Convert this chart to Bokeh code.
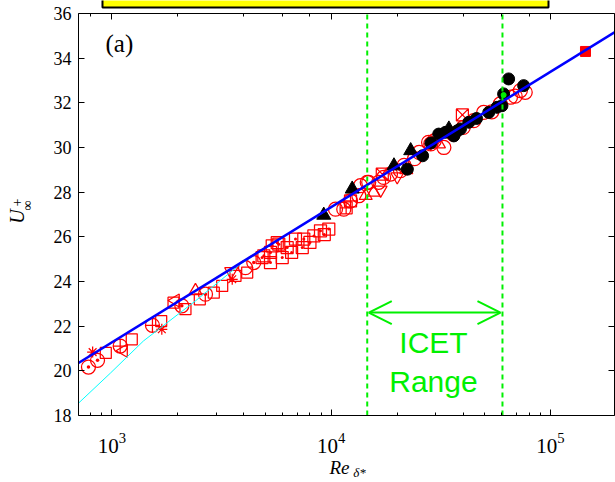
import math
from bokeh.plotting import figure
from bokeh.models import (Range1d, LogAxis, LinearAxis, Label, Arrow, OpenHead,
                          FixedTicker, LogTicker, CustomJSTickFormatter, BoxAnnotation)
from bokeh.embed import file_html
from bokeh.resources import INLINE

# ---------------- data ----------------
yticks = [18, 20, 22, 24, 26, 28, 30, 32, 34, 36]
x_lo, x_hi = 704, 195800          # axis box limits (Re_delta*)
y_lo, y_hi = 18, 36               # axis box limits (U+_inf)

fit_re = [704, 195800]
fit_u = [20.35, 35.16]

cyan_re = [704, 985, 1394, 2404, 3857, 5870, 10000]
cyan_u = [18.55, 19.9, 21.34, 23.13, 24.78, 25.93, 27.3]

cdot_re = [782, 860, 2084, 2672, 4436]
cdot_u = [20.17, 20.47, 22.91, 23.43, 24.85]

ccross_re = [1091, 1531, 28450]
ccross_u = [21.11, 22.04, 30.16]

sq_re = [938, 1232, 1678, 2165, 2517, 2915, 3184, 3661, 4140, 1910]
sq_u = [20.80, 21.41, 22.23, 22.76, 23.2, 23.5, 23.8, 24.25, 24.4, 23.05]

ast_re = [817, 1689, 3538]
ast_u = [20.84, 21.86, 24.1]

tleft_re = [1130, 1950]
tleft_u = [20.9, 23.15]

sqdot_re = [4842, 5287, 5383, 5675, 4930, 5768, 6300, 6874, 7380, 7500,
            8337, 8938, 9753, 5287, 5980, 6600, 8000, 9300]
sqdot_u = [25.07, 25.3, 25.6, 25.74, 25.15, 25.67, 25.52, 25.9, 25.52, 25.9,
           26.04, 26.27, 26.35, 24.85, 25.07, 25.3, 25.75, 26.1]

sqcross_re = [11700, 12250]
sqcross_u = [27.3, 27.61]

sqx_re = [39660, 17100]
sqx_u = [31.46, 28.81]

tri_re = [2405, 14370, 15620, 22000, 31000]
tri_u = [23.58, 27.84, 27.99, 29.0, 30.15]

itri_re = [3500, 16800, 20000]
itri_u = [24.45, 28.1, 28.7]

circ_re = [4066, 10462, 11410, 12250, 13370, 13600, 14600, 14830, 16460,
           17350, 18640, 20700, 25180, 27800, 32650, 44660, 49560, 59030,
           65690, 72910, 76700, 21500, 24000, 29500, 36000, 40000, 54000, 69000]
circ_u = [24.62, 27.24, 27.24, 27.61, 27.84, 28.29, 28.44, 28.44, 28.44,
          28.66, 28.81, 28.96, 29.78, 30.23, 30.0, 31.2, 31.57, 31.95,
          32.25, 32.55, 32.47, 29.2, 29.5, 30.3, 30.6, 30.9, 31.6, 32.3]

bcirc_re = [22250, 26110, 30930, 37640, 33200, 36240, 38850, 42420, 52300,
            57030, 60070, 61130, 64440, 75450, 28500, 46000]
bcirc_u = [29.03, 29.63, 30.6, 30.75, 30.68, 30.52, 30.83, 31.13, 31.57,
           31.8, 31.87, 32.4, 33.07, 32.77, 30.2, 31.3]

btri_re = [9250, 12470, 19330, 23040, 34410]
btri_u = [26.97, 28.14, 29.18, 29.86, 30.83]

green_re = [61130]
green_u = [32.35]

rsq_re = [144400]
rsq_u = [34.3]

icet_lo, icet_hi = 14600, 60400

RED = "#ff0000"
GREEN = "#00f000"
SERIF = "Liberation Serif"

# frame covers the whole canvas; the axis box is drawn by fixed-location axes
p = figure(width=615, height=482, x_axis_type="log",
           x_range=Range1d(310.5, 197900), y_range=Range1d(15.0, 36.582),
           output_backend="svg", toolbar_location=None, min_border=0)
p.grid.visible = False
p.outline_line_color = None
p.background_fill_color = "white"
p.border_fill_color = "white"

def style_axis(ax):
    ax.axis_line_color = "black"
    ax.axis_line_width = 1
    ax.major_tick_in = 6
    ax.major_tick_out = 0
    ax.major_tick_line_color = "black"
    ax.minor_tick_line_color = "black"
    ax.major_label_text_font = SERIF
    ax.major_label_text_color = "black"

blank = CustomJSTickFormatter(code="return ''")

xa = p.xaxis[0]
style_axis(xa)
xa.fixed_location = y_lo
xa.bounds = (x_lo, x_hi)
xa.minor_tick_in = 3
xa.minor_tick_out = 0
xa.major_label_text_font_size = "21px"
xa.major_label_standoff = 18

ya = p.yaxis[0]
style_axis(ya)
ya.fixed_location = x_lo
ya.bounds = (y_lo, y_hi)
ya.ticker = FixedTicker(ticks=yticks)
ya.minor_tick_in = 0
ya.minor_tick_out = 0
ya.major_label_text_font_size = "18px"
ya.major_label_standoff = 7

top = LogAxis(ticker=LogTicker(), formatter=blank, fixed_location=y_hi,
              bounds=(x_lo, x_hi))
style_axis(top)
top.minor_tick_in = 3
top.minor_tick_out = 0
top.major_label_text_font_size = "2px"
top.major_label_standoff = 0
p.add_layout(top, "above")

right = LinearAxis(ticker=FixedTicker(ticks=yticks), formatter=blank,
                   fixed_location=x_hi, bounds=(y_lo, y_hi))
style_axis(right)
right.minor_tick_in = 0
right.minor_tick_out = 0
right.major_label_text_font_size = "2px"
right.major_label_standoff = 0
p.add_layout(right, "right")

lw = 1.25
p.scatter(sq_re, sq_u, marker="square", size=11, line_color=RED, fill_color=None, line_width=lw)
p.scatter(cdot_re, cdot_u, marker="circle_dot", size=14, line_color=RED, fill_color=None, line_width=lw)
p.scatter(ccross_re, ccross_u, marker="circle_cross", size=14, line_color=RED, fill_color=None, line_width=lw)
p.scatter(ast_re, ast_u, marker="asterisk", size=11, line_color=RED, line_width=lw)
p.scatter(tleft_re, tleft_u, marker="triangle", angle=math.pi / 2, size=13, line_color=RED, fill_color=None, line_width=lw)
p.scatter(sqdot_re, sqdot_u, marker="square_dot", size=12, line_color=RED, fill_color=None, line_width=lw)
p.scatter(sqcross_re, sqcross_u, marker="square_cross", size=12, line_color=RED, fill_color=None, line_width=lw)
p.scatter(sqx_re, sqx_u, marker="square_x", size=12, line_color=RED, fill_color=None, line_width=lw)
p.scatter(tri_re, tri_u, marker="triangle", size=13, line_color=RED, fill_color=None, line_width=lw)
p.scatter(itri_re, itri_u, marker="inverted_triangle", size=13, line_color=RED, fill_color=None, line_width=lw)
p.scatter(circ_re, circ_u, marker="circle", size=14, line_color=RED, fill_color=None, line_width=lw)
p.scatter(bcirc_re, bcirc_u, marker="circle", size=12, line_color="black", fill_color="black")
p.scatter(btri_re, btri_u, marker="triangle", size=14, line_color="black", fill_color="black")
p.scatter(green_re, green_u, marker="circle", size=5, line_color=GREEN, fill_color=GREEN)
p.scatter(rsq_re, rsq_u, marker="square", size=10, line_color=RED, fill_color=RED)

p.line(cyan_re, cyan_u, line_color="#00ffff", line_width=1)
p.line(fit_re, fit_u, line_color="#0000ff", line_width=2.6)

for xv in (icet_lo, icet_hi):
    p.line([xv, xv], [y_lo, y_hi], line_color=GREEN, line_width=2, line_dash="5 4")

p.add_layout(Arrow(x_start=14840, x_end=59150, y_start=22.61, y_end=22.61,
                   line_color=GREEN, line_width=2,
                   start=OpenHead(size=23, line_color=GREEN, line_width=2),
                   end=OpenHead(size=23, line_color=GREEN, line_width=2)))

p.add_layout(Label(x=29270, y=21.25, text="ICET", text_font="Liberation Sans",
                   text_font_size="30px", text_color=GREEN, text_align="center",
                   text_baseline="middle"))
p.add_layout(Label(x=29270, y=19.54, text="Range", text_font="Liberation Sans",
                   text_font_size="30px", text_color=GREEN, text_align="center",
                   text_baseline="middle"))
p.add_layout(Label(x=935, y=34.66, text="(a)", text_font=SERIF,
                   text_font_size="25px", text_color="black", text_align="left",
                   text_baseline="middle"))

def tlabel(x, y, text, size, italic=False, angle=0.0, align="center"):
    p.add_layout(Label(x=x, y=y, text=text, text_font=SERIF,
                       text_font_style="italic" if italic else "normal",
                       text_font_size=size, angle=angle, text_align=align,
                       text_baseline="middle", text_color="black"))

# y-axis title  U^+_inf  (rotated)
tlabel(371, 26.91, "U", "20px", True, math.pi / 2)
tlabel(371, 27.54, "+", "14px", False, math.pi / 2)
tlabel(412, 27.40, "∞", "14px", False, math.pi / 2)
# x-axis title  Re_{delta*}
tlabel(10910, 15.67, "Re", "19px", True)
tlabel(13460, 15.45, "δ*", "13px", True)

# yellow legend box, cut by the top of the canvas
p.add_layout(BoxAnnotation(left=906, right=97930, bottom=36.27, top=37.5,
                           fill_color="#ffff00", fill_alpha=1.0,
                           line_color="black", line_width=2, line_alpha=1.0))

open("out.html", "w").write(file_html(p, INLINE))
